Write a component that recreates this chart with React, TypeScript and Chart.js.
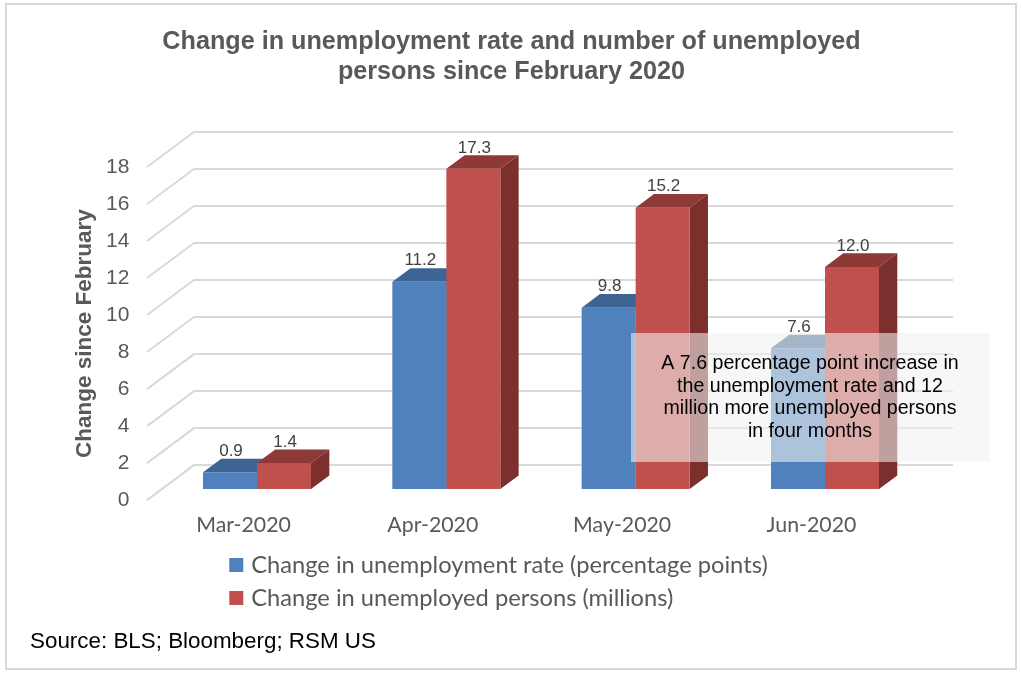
import React, { useEffect, useRef } from "react";
import { Chart, registerables } from "chart.js";

Chart.register(...registerables);

const categories = ["Mar-2020", "Apr-2020", "May-2020", "Jun-2020"];
const rateValues = [0.9, 11.2, 9.8, 7.6];
const personValues = [1.4, 17.3, 15.2, 12.0];
const seriesNames = [
  "Change in unemployment rate (percentage points)",
  "Change in unemployed persons (millions)",
];
const titleLines = [
  "Change in unemployment rate and number of unemployed",
  "persons since February 2020",
];
const axisTitle = "Change since February";
const sourceText = "Source: BLS; Bloomberg; RSM US";
const noteLines = [
  "A 7.6 percentage point increase in",
  "the unemployment rate and 12",
  "million more unemployed persons",
  "in four months",
];

const BLUE = "#4F81BD";
const RED = "#C0504D";
const BLUE_TOP = "#3D6492";
const RED_TOP = "#8F3937";
const BLUE_SIDE = "#2F4D72";
const RED_SIDE = "#7B302E";
const GRID = "#D9D9D9";
const TEXT = "#595959";
const ARIAL = "'Liberation Sans', Arial, sans-serif";
const CALIBRI = "Lato, Carlito, sans-serif";

const plot3d = {
  id: "plot3d",
  afterLayout(chart: any) {
    const legend = chart.legend;
    if (legend) {
      legend.left = 224;
      legend.right = 1000;
      legend.top = 543.75;
      legend.adjustHitBoxes();
    }
    const source = chart.boxes.find((b: any) => b.options && b.options.text === sourceText);
    if (source) {
      source.left = 30;
      source.top = 624.6;
    }
    const title = chart.boxes.find((b: any) => b.options && b.options.text === titleLines);
    if (title) {
      title.left = 0;
      title.right = 1023;
    }
  },
  beforeDatasetsDraw(chart: any) {
    const { ctx } = chart;
    const y = chart.scales.y;
    // walls and floor lines
    ctx.save();
    ctx.strokeStyle = GRID;
    ctx.lineWidth = 2;
    y.ticks.forEach((t: any) => {
      const p = y.getPixelForValue(t.value);
      ctx.beginPath();
      ctx.moveTo(147, p);
      ctx.lineTo(194, p - 35);
      ctx.lineTo(953, p - 35);
      ctx.stroke();
    });
    // depth faces of the bars
    const dx = 18.3;
    const dy = -13.6;
    [0, 1].forEach((i) => {
      const meta = chart.getDatasetMeta(i);
      meta.data.forEach((bar: any) => {
        const l = bar.x - bar.width / 2;
        const r = bar.x + bar.width / 2;
        ctx.fillStyle = i === 0 ? BLUE_TOP : RED_TOP;
        ctx.beginPath();
        ctx.moveTo(l, bar.y);
        ctx.lineTo(l + dx, bar.y + dy);
        ctx.lineTo(r + dx, bar.y + dy);
        ctx.lineTo(r, bar.y);
        ctx.closePath();
        ctx.fill();
        ctx.fillStyle = i === 0 ? BLUE_SIDE : RED_SIDE;
        ctx.beginPath();
        ctx.moveTo(r, bar.y);
        ctx.lineTo(r + dx, bar.y + dy);
        ctx.lineTo(r + dx, bar.base + dy);
        ctx.lineTo(r, bar.base);
        ctx.closePath();
        ctx.fill();
      });
    });
    ctx.restore();
  },
  afterDatasetsDraw(chart: any) {
    const { ctx } = chart;
    ctx.save();
    // value labels
    ctx.font = `17px ${ARIAL}`;
    ctx.fillStyle = "#404040";
    ctx.textAlign = "center";
    ctx.textBaseline = "middle";
    [0, 1].forEach((i) => {
      const meta = chart.getDatasetMeta(i);
      const values = i === 0 ? rateValues : personValues;
      meta.data.forEach((bar: any, j: number) => {
        ctx.fillText(values[j].toFixed(1), bar.x + 1, bar.y - 21);
      });
    });
    // annotation box
    ctx.fillStyle = "rgba(242,242,242,0.58)";
    ctx.fillRect(631, 333, 359, 129);
    ctx.fillStyle = "#000000";
    ctx.font = `19.6px ${ARIAL}`;
    noteLines.forEach((line, k) => {
      ctx.fillText(line, 810, 363.5 + k * 22.7);
    });
    ctx.restore();
  },
};

export default function App() {
  const ref = useRef<HTMLCanvasElement>(null);
  useEffect(() => {
    const chart = new Chart(ref.current as HTMLCanvasElement, {
      type: "bar",
      data: {
        labels: categories,
        datasets: [
          { label: seriesNames[0], data: rateValues, backgroundColor: BLUE, yAxisID: "yBar" },
          { label: seriesNames[1], data: personValues, backgroundColor: RED, yAxisID: "yBar" },
        ],
      },
      plugins: [plot3d],
      options: {
        animation: false,
        responsive: false,
        layout: { padding: { left: 0, right: 101.35, top: 0, bottom: 0 } },
        datasets: { bar: { categoryPercentage: 0.5705, barPercentage: 1, borderWidth: 0 } },
        plugins: {
          tooltip: { enabled: false },
          title: {
            display: true,
            text: titleLines,
            color: TEXT,
            font: { family: ARIAL, size: 25.2, weight: "bold", lineHeight: 1.2 },
            padding: { top: 27, bottom: 79.5 },
          },
          subtitle: {
            display: true,
            text: sourceText,
            position: "bottom",
            align: "start",
            color: "#000000",
            font: { family: ARIAL, size: 22.4, weight: "normal" },
            padding: { top: 4, bottom: 24 },
          },
          legend: {
            display: true,
            position: "bottom",
            align: "start",
            maxWidth: 600,
            labels: {
              color: TEXT,
              font: { family: CALIBRI, size: 23.7 },
              boxWidth: 6,
              boxHeight: 6,
              padding: 9.3,
              generateLabels: () =>
                seriesNames.map((text, i) => ({
                  text,
                  fillStyle: i === 0 ? BLUE : RED,
                  strokeStyle: i === 0 ? BLUE : RED,
                  lineWidth: 8,
                  datasetIndex: i,
                  fontColor: TEXT,
                })),
            },
          },
        },
        scales: {
          x: {
            grid: { display: false },
            border: { display: false },
            afterFit: (s: any) => {
              s.height = 46;
            },
            ticks: { color: TEXT, font: { family: CALIBRI, size: 21.3 }, padding: 4, labelOffset: -13.5, maxRotation: 0 },
          },
          y: {
            min: 0,
            max: 18,
            position: "left",
            grid: { display: false },
            border: { display: false },
            afterFit: (s: any) => {
              s.width = 162.35;
            },
            ticks: { stepSize: 2, color: TEXT, font: { family: ARIAL, size: 21 }, padding: 25 },
            title: {
              display: true,
              text: axisTitle,
              color: TEXT,
              font: { family: ARIAL, size: 22.5, weight: "bold" },
              padding: { top: 71.5, bottom: 0 },
            },
          },
          yBar: { min: -0.6, max: 17.4, display: false },
        },
      } as any,
    });
    return () => chart.destroy();
  }, []);
  return (
    <div style={{ position: "absolute", left: 0, top: 0, width: 1021, height: 677, background: "#fff" }}>
      <canvas ref={ref} width={1021} height={677} style={{ display: "block" }} />
      <div
        style={{
          position: "absolute",
          left: 5,
          top: 3,
          width: 1012,
          height: 667,
          border: "2px solid #D9D9D9",
          boxSizing: "border-box",
          pointerEvents: "none",
        }}
      />
    </div>
  );
}
